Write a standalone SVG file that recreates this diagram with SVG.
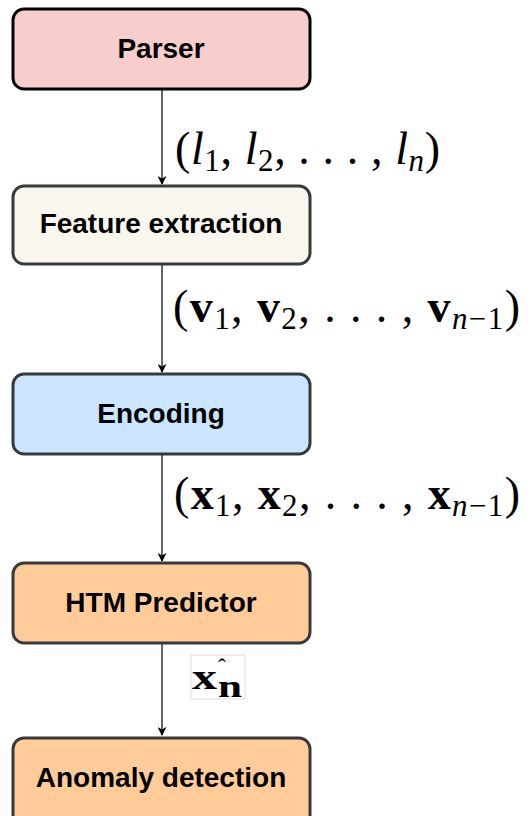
<svg xmlns="http://www.w3.org/2000/svg" width="532" height="816" viewBox="0 0 532 816">
<style>
.box{stroke:#36393d;stroke-width:3}
.lbl{font-family:"Liberation Sans",Arial,sans-serif;font-weight:bold;font-size:28px;fill:#000;text-anchor:middle}
.math{font-family:"Liberation Serif","Times New Roman",serif;font-size:46px;fill:#000}
.it{font-style:italic}
.bf{font-weight:bold}
.sub{font-size:31px}
.conn{stroke:#333;stroke-width:1.5;fill:none}
</style>
<defs>
<marker id="arr" viewBox="0 0 10 10" refX="9" refY="5" markerWidth="9" markerHeight="9" markerUnits="userSpaceOnUse" orient="auto">
<path d="M0,0 L10,5 L0,10 L3,5 Z" fill="#000"/>
</marker>
</defs>
<rect width="532" height="816" fill="#fff"/>
<g id="connectors">
<line class="conn" x1="162" y1="90" x2="162" y2="184" marker-end="url(#arr)"/>
<line class="conn" x1="162" y1="265" x2="162" y2="372" marker-end="url(#arr)"/>
<line class="conn" x1="162" y1="455" x2="162" y2="561" marker-end="url(#arr)"/>
<line class="conn" x1="162" y1="644" x2="162" y2="735" marker-end="url(#arr)"/>
</g>
<g id="label1">
<text class="math" x="175" y="164" textLength="265" lengthAdjust="spacing">(<tspan class="it">l</tspan><tspan class="sub" dy="7">1</tspan><tspan dy="-7">, </tspan><tspan class="it">l</tspan><tspan class="sub" dy="7">2</tspan><tspan dy="-7">, . . . , </tspan><tspan class="it">l</tspan><tspan class="sub it" dy="7">n</tspan><tspan dy="-7">)</tspan></text>
</g>
<g id="label2">
<text class="math" x="173" y="322" textLength="347" lengthAdjust="spacing">(<tspan class="bf">v</tspan><tspan class="sub" dy="7">1</tspan><tspan dy="-7">, </tspan><tspan class="bf">v</tspan><tspan class="sub" dy="7">2</tspan><tspan dy="-7">, . . . , </tspan><tspan class="bf">v</tspan><tspan class="sub" dy="7"><tspan class="it">n</tspan>−1</tspan><tspan dy="-7">)</tspan></text>
</g>
<g id="label3">
<text class="math" x="174" y="509" textLength="346" lengthAdjust="spacing">(<tspan class="bf">x</tspan><tspan class="sub" dy="7">1</tspan><tspan dy="-7">, </tspan><tspan class="bf">x</tspan><tspan class="sub" dy="7">2</tspan><tspan dy="-7">, . . . , </tspan><tspan class="bf">x</tspan><tspan class="sub" dy="7"><tspan class="it">n</tspan>−1</tspan><tspan dy="-7">)</tspan></text>
</g>
<g id="label4">
<rect x="191" y="655" width="54" height="44" fill="#fff" stroke="#ddd" stroke-width="1"/>
<text font-family="Liberation Serif,serif" font-weight="bold" fill="#000"><tspan x="192" y="689" font-size="36" textLength="25" lengthAdjust="spacingAndGlyphs">x</tspan><tspan x="222" y="675" font-weight="normal" font-size="24" text-anchor="middle">ˆ</tspan><tspan x="218" y="697" font-size="31" textLength="24" lengthAdjust="spacingAndGlyphs">n</tspan></text>
</g>
<g id="parser">
<rect x="13" y="9" width="297" height="80" rx="11" fill="#f8cecc" stroke="#000" stroke-width="3"/>
<text class="lbl" x="161" y="58">Parser</text>
</g>
<g id="feature">
<rect class="box" x="13" y="186" width="297" height="78" rx="11" fill="#f9f7ed"/>
<text class="lbl" x="161" y="233">Feature extraction</text>
</g>
<g id="encoding">
<rect class="box" x="13" y="374" width="297" height="80" rx="11" fill="#cce5ff"/>
<text class="lbl" x="161" y="423">Encoding</text>
</g>
<g id="htm">
<rect class="box" x="13" y="563" width="297" height="80" rx="11" fill="#ffcc99"/>
<text class="lbl" x="161" y="612">HTM Predictor</text>
</g>
<g id="anomaly">
<rect class="box" x="13" y="738" width="297" height="90" rx="11" fill="#ffcc99"/>
<text class="lbl" x="161" y="787">Anomaly detection</text>
</g>
</svg>
